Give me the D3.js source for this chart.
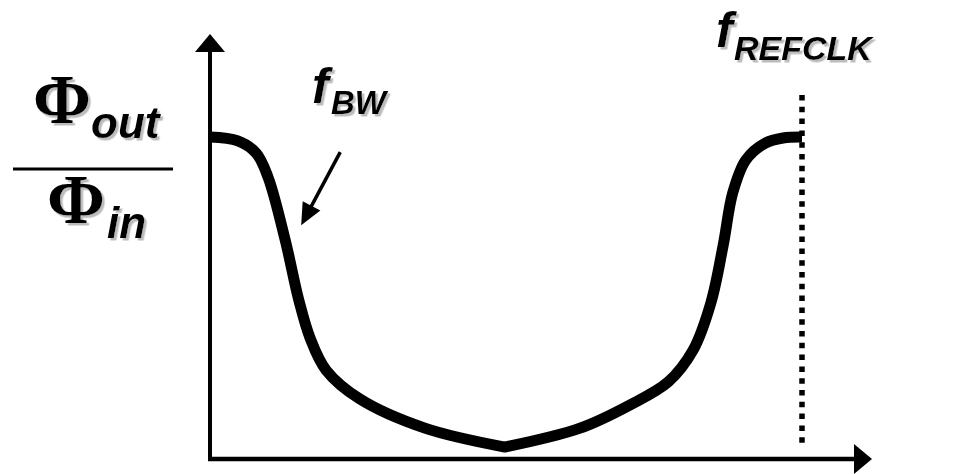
<!DOCTYPE html>
<html>
<head>
<meta charset="utf-8">
<script src="https://cdn.jsdelivr.net/npm/d3@7"></script>
<style>
  body { margin: 0; background: #fff; }
  .sans { font-family: "Liberation Sans", Arial, sans-serif; font-weight: bold; font-style: italic; }
  .serif { font-family: "Liberation Serif", "Times New Roman", serif; font-weight: bold; }
</style>
</head>
<body>
<div id="chart"></div>
<script>
// phase transfer |Φout/Φin| vs frequency, normalised: x = f / fREFCLK * 100, y = gain %
var leftX  = [0, 4.7, 7.8, 9.8, 12.7, 15.0, 16.9, 19.6, 25.3, 36.3, 49.8];
var leftY  = [100, 98.8, 95.0, 87.5, 67.9, 49.2, 37.4, 27.4, 18.4, 9.3, 3.4];
var rightX = [49.8, 62.5, 70.9, 77.4, 81.6, 84.6, 86.7, 88.3, 90.5, 93.8, 96.8, 100];
var rightY = [3.4, 9.3, 16.5, 23.7, 33.6, 48.3, 66.4, 82.6, 92.8, 98.1, 99.7, 100];
var refclkX = 100;          // dotted marker at fREFCLK
var bwArrow = [[22.0, 95.3], [15.4, 72.5]];  // pointer to the bandwidth corner

(function(){
  var W = 979, H = 474;

  var x = d3.scaleLinear().domain([0, 100]).range([210, 802]);
  var y = d3.scaleLinear().domain([0, 100]).range([458, 137]);

  var svg = d3.select("#chart").append("svg")
      .attr("width", W).attr("height", H);

  // soft grey shadow used on the labels
  var f = svg.append("defs").append("filter").attr("id", "shadow")
      .attr("x", "-20%").attr("y", "-20%").attr("width", "150%").attr("height", "150%");
  f.append("feDropShadow").attr("dx", 2.5).attr("dy", 2.5)
      .attr("stdDeviation", 0.6).attr("flood-color", "#bcbcbc").attr("flood-opacity", 1);

  // axes (no ticks, just arrows)
  var x0 = x(0), y0 = y(0);
  svg.append("line")
      .attr("x1", x0).attr("y1", y0 + 2).attr("x2", x0).attr("y2", 50)
      .attr("stroke", "#000").attr("stroke-width", 4);
  svg.append("path")
      .attr("d", "M" + x0 + ",34 L" + (x0 - 15) + ",52 L" + (x0 + 15) + ",52 Z")
      .attr("fill", "#000");
  svg.append("line")
      .attr("x1", x0 - 2).attr("y1", y0 + 1).attr("x2", 856).attr("y2", y0 + 1)
      .attr("stroke", "#000").attr("stroke-width", 4.5);
  svg.append("path")
      .attr("d", "M872," + (y0 + 1) + " L854," + (y0 - 14) + " L854," + (y0 + 16) + " Z")
      .attr("fill", "#000");

  // dotted fREFCLK line
  svg.append("line")
      .attr("x1", x(refclkX)).attr("y1", 95).attr("x2", x(refclkX)).attr("y2", 448)
      .attr("stroke", "#000").attr("stroke-width", 5.5)
      .attr("stroke-dasharray", "5.5,6.3");

  // the transfer curve, two branches joined at the notch
  var line = d3.line()
      .x(function(d) { return x(d[0]); })
      .y(function(d) { return y(d[1]); })
      .curve(d3.curveCatmullRom.alpha(0.5));
  var left = leftX.map(function(v, i) { return [v, leftY[i]]; });
  var right = rightX.map(function(v, i) { return [v, rightY[i]]; });
  var pathD = line(left) + line(right).replace(/^M/, "L");
  svg.append("path")
      .attr("d", pathD)
      .attr("fill", "none")
      .attr("stroke", "#000")
      .attr("stroke-width", 11)
      .attr("stroke-linejoin", "bevel");

  // bandwidth arrow
  var t0 = [x(bwArrow[0][0]), y(bwArrow[0][1])],
      t1 = [x(bwArrow[1][0]), y(bwArrow[1][1])];
  var dx = t1[0] - t0[0], dy = t1[1] - t0[1], len = Math.sqrt(dx*dx + dy*dy);
  var ux = dx / len, uy = dy / len, hl = 22, hw = 10;
  var bx = t1[0] - ux * hl, by = t1[1] - uy * hl;
  svg.append("line")
      .attr("x1", t0[0]).attr("y1", t0[1]).attr("x2", bx + ux * 2).attr("y2", by + uy * 2)
      .attr("stroke", "#000").attr("stroke-width", 3.5);
  svg.append("path")
      .attr("d", "M" + t1[0] + "," + t1[1] +
                 " L" + (bx - uy * hw) + "," + (by + ux * hw) +
                 " L" + (bx + uy * hw) + "," + (by - ux * hw) + " Z")
      .attr("fill", "#000");

  // labels
  var g = svg.append("g").attr("filter", "url(#shadow)");
  function label(cls, txt, px, py, size) {
    g.append("text").attr("class", cls)
        .attr("x", px).attr("y", py)
        .attr("font-size", size).attr("fill", "#000").text(txt);
  }

  label("serif", "\u03A6", 33, 123, 70);
  label("sans", "out", 91, 138, 44);
  svg.append("line")
      .attr("x1", 13).attr("y1", 169).attr("x2", 173).attr("y2", 169)
      .attr("stroke", "#000").attr("stroke-width", 3);
  label("serif", "\u03A6", 47, 223, 70);
  label("sans", "in", 107, 238, 44);

  label("sans", "f", 312, 103, 50);
  label("sans", "BW", 331, 114, 33);
  label("sans", "f", 716, 47, 50);
  label("sans", "REFCLK", 734, 60, 34);
})()
</script>
</body>
</html>
